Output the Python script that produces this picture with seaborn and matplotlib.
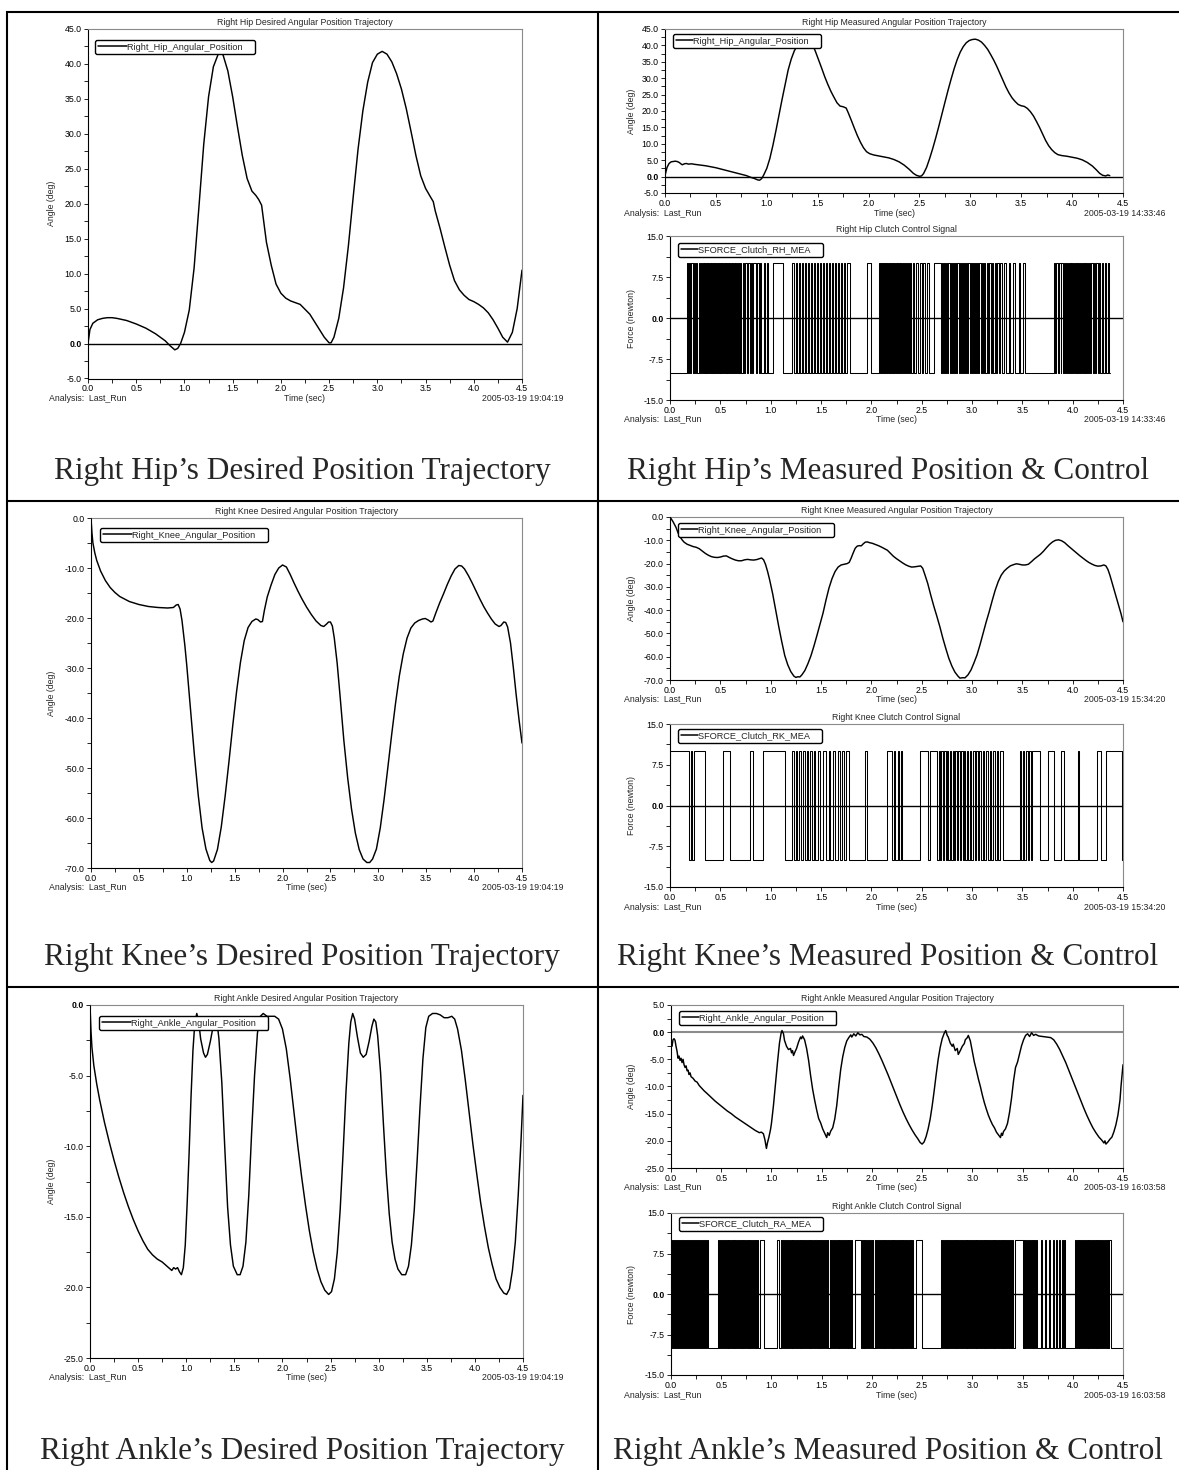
import numpy as np
import matplotlib
matplotlib.use("Agg")
import matplotlib.pyplot as plt
from matplotlib.lines import Line2D
from matplotlib.ticker import MultipleLocator, FormatStrFormatter
import seaborn as sns

sns.set_style("ticks")
plt.rcParams["font.family"] = ["Liberation Sans", "DejaVu Sans"]
plt.rcParams["axes.unicode_minus"] = False

# ---------------------------------------------------------------- data
# joint angle trajectories: columns are time (s), angle (deg)
hip_desired = np.array([
    [0.00, 0.0], [0.02, 2.0], [0.05, 2.9], [0.10, 3.4], [0.15, 3.6], [0.20, 3.7],
    [0.25, 3.7], [0.30, 3.6], [0.40, 3.3], [0.50, 2.8], [0.60, 2.2], [0.70, 1.4],
    [0.80, 0.4], [0.85, -0.3], [0.90, -0.9], [0.93, -0.7], [0.96, 0.0], [1.00, 1.6],
    [1.05, 4.8], [1.10, 10.8], [1.15, 19.5], [1.20, 28.5], [1.25, 35.3], [1.30, 39.6],
    [1.35, 41.4], [1.37, 41.6], [1.40, 41.3], [1.45, 39.0], [1.50, 35.3], [1.55, 31.0],
    [1.60, 26.9], [1.65, 23.6], [1.70, 21.8], [1.74, 21.2], [1.77, 20.6], [1.80, 19.8],
    [1.85, 14.5], [1.90, 11.2], [1.95, 8.5], [2.00, 7.2], [2.05, 6.5], [2.10, 6.1],
    [2.20, 5.6], [2.30, 4.2], [2.40, 2.0], [2.45, 0.9], [2.50, 0.1], [2.52, 0.1],
    [2.55, 0.9], [2.60, 3.6], [2.65, 8.0], [2.70, 14.0], [2.75, 21.0], [2.80, 27.8],
    [2.85, 33.3], [2.90, 37.4], [2.95, 40.2], [3.00, 41.4], [3.05, 41.8], [3.10, 41.4],
    [3.15, 40.3], [3.20, 38.6], [3.25, 36.4], [3.30, 33.6], [3.35, 30.3], [3.40, 26.9],
    [3.45, 24.0], [3.50, 22.2], [3.55, 21.0], [3.58, 20.3], [3.60, 19.0], [3.65, 16.5],
    [3.70, 13.8], [3.75, 11.2], [3.80, 9.0], [3.85, 7.7], [3.90, 6.9], [3.95, 6.3],
    [4.00, 6.0], [4.05, 5.6], [4.10, 5.1], [4.15, 4.4], [4.20, 3.4], [4.25, 2.2],
    [4.30, 0.9], [4.35, 0.2], [4.40, 1.6], [4.45, 5.0], [4.50, 10.5]])

hip_measured = np.array([
    [0.00, 0.3], [0.02, 2.8], [0.04, 4.0], [0.06, 4.5], [0.08, 4.6], [0.10, 4.7],
    [0.12, 4.6], [0.14, 4.3], [0.16, 3.8], [0.17, 3.6], [0.19, 3.9], [0.21, 4.0],
    [0.23, 3.8], [0.26, 3.9], [0.30, 3.7], [0.35, 3.5], [0.40, 3.3], [0.45, 3.0],
    [0.50, 2.7], [0.55, 2.3], [0.60, 1.9], [0.65, 1.5], [0.70, 1.1], [0.75, 0.7],
    [0.80, 0.3], [0.84, -0.2], [0.88, -0.6], [0.91, -1.0], [0.93, -1.1], [0.95, -0.6],
    [0.97, 0.5], [1.00, 2.5], [1.03, 5.5], [1.06, 9.5], [1.09, 14.0], [1.12, 18.8],
    [1.15, 23.5], [1.18, 28.0], [1.21, 32.5], [1.24, 35.8], [1.27, 38.3], [1.30, 40.0],
    [1.33, 41.1], [1.36, 41.6], [1.39, 41.8], [1.42, 41.5], [1.45, 40.3], [1.48, 38.0],
    [1.51, 35.5], [1.54, 33.0], [1.57, 30.4], [1.60, 28.1], [1.63, 26.0], [1.66, 24.2],
    [1.69, 22.5], [1.72, 21.5], [1.75, 21.3], [1.78, 20.9], [1.80, 19.5], [1.83, 17.2],
    [1.86, 14.8], [1.89, 12.5], [1.92, 10.5], [1.95, 8.8], [1.98, 7.6], [2.01, 7.0],
    [2.05, 6.6], [2.10, 6.3], [2.15, 6.0], [2.20, 5.7], [2.25, 5.2], [2.30, 4.5],
    [2.35, 3.5], [2.40, 2.2], [2.44, 1.0], [2.47, 0.4], [2.50, 0.1], [2.52, 0.2],
    [2.54, 0.9], [2.57, 2.8], [2.60, 5.5], [2.63, 8.5], [2.66, 11.8], [2.69, 15.3],
    [2.72, 19.0], [2.75, 22.6], [2.78, 26.2], [2.81, 29.6], [2.84, 32.8], [2.87, 35.6],
    [2.90, 37.9], [2.93, 39.6], [2.96, 40.8], [2.99, 41.5], [3.02, 41.8], [3.05, 41.9],
    [3.08, 41.6], [3.11, 41.0], [3.14, 40.0], [3.17, 38.8], [3.20, 37.2], [3.23, 35.5],
    [3.26, 33.6], [3.29, 31.5], [3.32, 29.4], [3.35, 27.3], [3.38, 25.5], [3.41, 24.0],
    [3.44, 22.9], [3.47, 22.0], [3.50, 21.6], [3.53, 21.4], [3.56, 20.8], [3.59, 19.8],
    [3.62, 18.5], [3.65, 16.8], [3.68, 15.0], [3.71, 13.0], [3.74, 11.0], [3.77, 9.4],
    [3.80, 8.2], [3.83, 7.3], [3.86, 6.7], [3.90, 6.4], [3.95, 6.2], [4.00, 5.9],
    [4.05, 5.6], [4.10, 5.1], [4.15, 4.3], [4.20, 3.2], [4.24, 2.0], [4.27, 1.0],
    [4.30, 0.4], [4.33, 0.2], [4.35, 0.5], [4.37, 0.3]])

knee_desired = np.array([
    [0.00, 0.0], [0.01, -3.0], [0.02, -5.0], [0.04, -7.0], [0.06, -8.5], [0.10, -10.6],
    [0.15, -12.5], [0.20, -13.9], [0.25, -14.9], [0.30, -15.7], [0.40, -16.7],
    [0.50, -17.3], [0.60, -17.7], [0.70, -17.9], [0.80, -18.0], [0.86, -17.9],
    [0.89, -17.4], [0.91, -17.3], [0.93, -18.2], [0.95, -20.5], [0.98, -25.5],
    [1.00, -29.5], [1.04, -38.5], [1.08, -47.5], [1.12, -55.5], [1.16, -62.0],
    [1.20, -66.2], [1.24, -68.5], [1.26, -68.9], [1.28, -68.6], [1.32, -66.3],
    [1.36, -61.8], [1.40, -55.7], [1.44, -48.8], [1.48, -41.5], [1.52, -34.7],
    [1.56, -28.9], [1.60, -24.5], [1.64, -21.9], [1.68, -20.7], [1.72, -20.2],
    [1.74, -20.3], [1.77, -20.8], [1.79, -20.7], [1.81, -18.5], [1.84, -15.8],
    [1.88, -13.4], [1.92, -11.3], [1.96, -10.0], [2.00, -9.4], [2.04, -9.8],
    [2.08, -11.3], [2.12, -13.0], [2.16, -14.6], [2.20, -16.1], [2.25, -17.8],
    [2.30, -19.3], [2.35, -20.6], [2.40, -21.5], [2.43, -21.7], [2.46, -21.2],
    [2.48, -20.8], [2.50, -20.8], [2.52, -21.6], [2.54, -24.0], [2.57, -29.0],
    [2.60, -35.5], [2.64, -44.5], [2.68, -52.0], [2.72, -58.2], [2.76, -63.0],
    [2.80, -66.3], [2.84, -68.2], [2.88, -68.9], [2.91, -68.9], [2.94, -68.2],
    [2.98, -66.2], [3.02, -62.0], [3.06, -56.3], [3.10, -49.8], [3.14, -43.2],
    [3.18, -37.0], [3.22, -31.5], [3.26, -27.2], [3.30, -24.0], [3.34, -22.0],
    [3.38, -21.0], [3.42, -20.5], [3.46, -20.2], [3.49, -20.1], [3.52, -20.4],
    [3.55, -20.8], [3.57, -20.6], [3.60, -19.0], [3.64, -17.0], [3.68, -15.2],
    [3.72, -13.3], [3.76, -11.6], [3.80, -10.2], [3.84, -9.5], [3.87, -9.6],
    [3.90, -10.2], [3.94, -11.5], [3.98, -13.0], [4.02, -14.6], [4.06, -16.2],
    [4.10, -17.7], [4.14, -19.0], [4.18, -20.2], [4.22, -21.2], [4.26, -21.7],
    [4.28, -21.5], [4.31, -20.8], [4.33, -20.9], [4.35, -21.8], [4.38, -25.0],
    [4.41, -30.0], [4.44, -35.5], [4.47, -40.5], [4.50, -45.0]])

knee_measured = np.array([
    [0.00, 0.0], [0.03, -2.0], [0.06, -4.5], [0.08, -6.8], [0.10, -8.5], [0.12, -9.8],
    [0.14, -10.8], [0.17, -11.7], [0.20, -12.2], [0.23, -12.7], [0.26, -13.0],
    [0.29, -13.6], [0.32, -14.6], [0.35, -15.6], [0.38, -16.4], [0.41, -17.0],
    [0.44, -17.3], [0.47, -17.4], [0.50, -17.2], [0.53, -16.8], [0.56, -16.7],
    [0.59, -17.4], [0.62, -18.0], [0.65, -18.5], [0.68, -18.8], [0.71, -18.8],
    [0.74, -18.4], [0.77, -18.2], [0.80, -18.4], [0.83, -18.5], [0.86, -18.3],
    [0.89, -17.9], [0.91, -17.6], [0.93, -18.4], [0.95, -20.5], [0.97, -23.5],
    [0.99, -27.0], [1.02, -33.0], [1.05, -40.0], [1.08, -47.0], [1.11, -53.5],
    [1.14, -59.5], [1.17, -63.5], [1.20, -66.4], [1.23, -68.3], [1.25, -68.9],
    [1.27, -68.6], [1.29, -68.7], [1.31, -67.8], [1.34, -65.9], [1.37, -63.0],
    [1.40, -59.6], [1.43, -55.4], [1.46, -50.8], [1.49, -46.0], [1.52, -41.3],
    [1.55, -35.6], [1.58, -30.4], [1.61, -26.4], [1.64, -23.4], [1.67, -21.5],
    [1.70, -20.6], [1.73, -20.3], [1.76, -20.0], [1.78, -19.5], [1.80, -17.6],
    [1.82, -15.4], [1.84, -13.4], [1.86, -12.5], [1.88, -12.3], [1.90, -12.4],
    [1.92, -11.5], [1.94, -10.8], [1.96, -10.7], [1.98, -11.0], [2.01, -11.3],
    [2.04, -11.8], [2.07, -12.3], [2.10, -12.9], [2.13, -13.6], [2.16, -14.3],
    [2.19, -15.6], [2.22, -16.9], [2.25, -17.9], [2.28, -18.8], [2.31, -19.7],
    [2.34, -20.5], [2.37, -21.1], [2.40, -21.5], [2.43, -21.4], [2.46, -21.2],
    [2.49, -21.0], [2.51, -22.0], [2.53, -24.5], [2.56, -28.5], [2.59, -33.5],
    [2.62, -38.2], [2.65, -42.5], [2.68, -47.0], [2.71, -52.0], [2.74, -56.5],
    [2.77, -60.7], [2.80, -64.0], [2.83, -66.6], [2.86, -68.3], [2.88, -69.2],
    [2.91, -69.0], [2.93, -69.1], [2.96, -67.8], [2.99, -65.7], [3.02, -62.6],
    [3.05, -59.2], [3.08, -54.8], [3.11, -50.0], [3.14, -45.2], [3.17, -40.8],
    [3.20, -36.0], [3.23, -31.5], [3.26, -27.8], [3.29, -25.0], [3.32, -23.2],
    [3.35, -22.0], [3.38, -21.0], [3.41, -20.5], [3.44, -20.1], [3.47, -20.3],
    [3.50, -20.6], [3.53, -20.6], [3.56, -20.3], [3.59, -19.2], [3.62, -18.0],
    [3.65, -17.0], [3.68, -16.0], [3.71, -14.7], [3.74, -13.2], [3.77, -11.8],
    [3.80, -10.7], [3.83, -10.0], [3.86, -9.8], [3.89, -10.2], [3.92, -11.0],
    [3.95, -12.2], [3.98, -13.3], [4.01, -14.4], [4.04, -15.5], [4.07, -16.6],
    [4.10, -17.6], [4.13, -18.6], [4.16, -19.5], [4.19, -20.2], [4.22, -20.8],
    [4.25, -21.1], [4.28, -21.0], [4.31, -20.6], [4.33, -21.0], [4.35, -22.5],
    [4.37, -25.0], [4.40, -29.5], [4.43, -34.0], [4.46, -38.5], [4.48, -41.5],
    [4.50, -45.0]])

ankle_desired = np.array([
    [0.00, 0.0], [0.01, -1.8], [0.02, -3.0], [0.04, -4.3], [0.07, -5.6], [0.10, -6.7],
    [0.15, -8.3], [0.20, -9.7], [0.25, -11.0], [0.30, -12.2], [0.35, -13.3],
    [0.40, -14.3], [0.45, -15.2], [0.50, -16.0], [0.55, -16.7], [0.60, -17.3],
    [0.65, -17.7], [0.70, -18.0], [0.75, -18.2], [0.80, -18.5], [0.85, -18.8],
    [0.87, -18.6], [0.89, -18.7], [0.91, -18.6], [0.93, -18.9], [0.95, -19.1],
    [0.97, -18.6], [0.99, -17.0], [1.01, -14.0], [1.03, -10.5], [1.05, -6.5],
    [1.07, -3.2], [1.09, -1.2], [1.11, -0.6], [1.13, -1.2], [1.15, -2.4], [1.18, -3.4],
    [1.20, -3.7], [1.22, -3.5], [1.25, -2.6], [1.28, -1.5], [1.30, -1.0], [1.32, -1.2],
    [1.34, -2.4], [1.37, -5.5], [1.40, -10.0], [1.43, -14.3], [1.46, -17.0],
    [1.49, -18.5], [1.53, -19.1], [1.56, -19.1], [1.59, -18.5], [1.62, -16.8],
    [1.65, -13.5], [1.68, -9.0], [1.71, -5.0], [1.74, -2.0], [1.77, -0.8], [1.80, -0.6],
    [1.84, -0.8], [1.88, -0.8], [1.92, -0.8], [1.96, -1.0], [2.00, -1.7], [2.04, -3.1],
    [2.08, -5.2], [2.12, -7.6], [2.16, -10.0], [2.20, -12.2], [2.24, -14.2],
    [2.28, -16.0], [2.32, -17.5], [2.36, -18.7], [2.40, -19.6], [2.44, -20.2],
    [2.48, -20.5], [2.51, -20.3], [2.54, -19.4], [2.57, -17.5], [2.60, -14.5],
    [2.63, -10.5], [2.66, -6.2], [2.69, -2.7], [2.71, -1.2], [2.73, -0.6], [2.75, -1.0],
    [2.78, -2.3], [2.81, -3.4], [2.84, -3.7], [2.87, -3.5], [2.90, -2.6], [2.93, -1.5],
    [2.95, -1.0], [2.97, -1.2], [2.99, -2.2], [3.02, -4.8], [3.05, -8.5], [3.08, -12.0],
    [3.11, -14.8], [3.14, -16.8], [3.17, -18.0], [3.20, -18.7], [3.24, -19.1],
    [3.28, -19.1], [3.31, -18.5], [3.34, -17.0], [3.37, -14.5], [3.40, -11.0],
    [3.43, -7.2], [3.46, -3.8], [3.49, -1.6], [3.52, -0.8], [3.56, -0.6], [3.60, -0.6],
    [3.64, -0.7], [3.68, -0.9], [3.72, -0.9], [3.76, -0.8], [3.79, -1.0], [3.82, -1.7],
    [3.86, -3.2], [3.90, -5.3], [3.94, -7.6], [3.98, -9.9], [4.02, -12.0],
    [4.06, -14.0], [4.10, -15.7], [4.14, -17.2], [4.18, -18.4], [4.22, -19.4],
    [4.26, -20.0], [4.30, -20.4], [4.33, -20.5], [4.36, -20.1], [4.39, -18.8],
    [4.42, -16.8], [4.45, -13.5], [4.48, -9.5], [4.50, -6.4]])

ankle_measured = np.array([
    [0.000, -2.5], [0.010, -2.6], [0.015, -2.0], [0.020, -1.4], [0.030, -1.2],
    [0.040, -1.5], [0.050, -2.6], [0.060, -3.5], [0.070, -4.8], [0.080, -4.4],
    [0.090, -5.2], [0.100, -4.8], [0.110, -5.6], [0.120, -5.0], [0.130, -6.0],
    [0.140, -6.5], [0.150, -6.2], [0.160, -7.1], [0.170, -7.0], [0.180, -7.8],
    [0.190, -7.5], [0.200, -8.2], [0.220, -8.5], [0.240, -9.0], [0.260, -9.2],
    [0.280, -9.8], [0.300, -10.2], [0.330, -10.8], [0.360, -11.3], [0.400, -12.0],
    [0.440, -12.7], [0.480, -13.3], [0.520, -13.9], [0.560, -14.5], [0.600, -15.0],
    [0.640, -15.6], [0.680, -16.1], [0.720, -16.6], [0.760, -17.1], [0.800, -17.6],
    [0.840, -18.1], [0.880, -18.5], [0.900, -18.4], [0.920, -18.7], [0.935, -19.8],
    [0.950, -21.4], [0.960, -20.4], [0.975, -19.3], [0.990, -18.0], [1.000, -16.8],
    [1.020, -13.5], [1.040, -9.5], [1.060, -5.6], [1.080, -2.0], [1.095, -0.3],
    [1.105, 0.3], [1.120, -0.3], [1.130, -1.5], [1.150, -2.6], [1.170, -3.2],
    [1.190, -3.0], [1.200, -3.8], [1.210, -3.4], [1.220, -4.3], [1.235, -3.6],
    [1.250, -3.0], [1.270, -1.8], [1.290, -0.9], [1.300, -1.2], [1.310, -0.7],
    [1.330, -1.4], [1.350, -3.0], [1.370, -5.2], [1.390, -8.0], [1.410, -10.5],
    [1.430, -12.5], [1.450, -14.3], [1.470, -15.9], [1.490, -16.7], [1.510, -17.8],
    [1.530, -18.6], [1.550, -19.4], [1.560, -18.5], [1.575, -19.0], [1.590, -18.2],
    [1.610, -17.6], [1.630, -16.0], [1.650, -13.5], [1.670, -10.0], [1.690, -6.8],
    [1.710, -4.5], [1.730, -2.8], [1.750, -1.6], [1.770, -1.0], [1.790, -0.5],
    [1.800, -0.9], [1.820, -0.3], [1.840, -0.7], [1.860, -0.1], [1.880, -0.5],
    [1.900, -0.4], [1.920, -0.8], [1.950, -0.9], [1.980, -1.3], [2.010, -2.0],
    [2.040, -2.9], [2.070, -4.0], [2.100, -5.2], [2.130, -6.5], [2.160, -7.8],
    [2.190, -9.2], [2.220, -10.6], [2.250, -12.0], [2.280, -13.4], [2.310, -14.7],
    [2.340, -15.9], [2.370, -17.0], [2.400, -18.0], [2.430, -18.9], [2.460, -19.7],
    [2.480, -20.3], [2.500, -20.6], [2.520, -20.2], [2.540, -19.2], [2.560, -17.8],
    [2.580, -16.0], [2.600, -13.6], [2.620, -10.8], [2.640, -7.8], [2.660, -5.0],
    [2.680, -2.8], [2.700, -1.2], [2.720, -0.2], [2.735, 0.3], [2.750, -0.6],
    [2.760, -0.9], [2.780, -2.0], [2.800, -2.6], [2.810, -2.2], [2.830, -3.4],
    [2.850, -3.0], [2.860, -4.1], [2.880, -3.4], [2.900, -2.6], [2.920, -2.1],
    [2.930, -1.4], [2.950, -1.0], [2.960, -0.6], [2.980, -1.6], [3.000, -3.6],
    [3.020, -5.5], [3.040, -7.0], [3.060, -8.6], [3.080, -10.0], [3.100, -11.6],
    [3.120, -13.0], [3.140, -14.2], [3.160, -15.3], [3.180, -16.2], [3.200, -17.0],
    [3.220, -17.6], [3.240, -18.4], [3.260, -18.9], [3.280, -19.4], [3.290, -18.6],
    [3.300, -19.0], [3.310, -18.3], [3.330, -17.8], [3.350, -16.8], [3.370, -14.8],
    [3.390, -12.2], [3.410, -9.0], [3.430, -6.5], [3.450, -5.5], [3.470, -4.0],
    [3.490, -2.5], [3.510, -1.4], [3.530, -0.6], [3.550, -0.3], [3.570, -0.8],
    [3.590, -0.1], [3.610, -0.6], [3.630, -0.4], [3.660, -0.7], [3.700, -0.8],
    [3.740, -0.9], [3.780, -1.0], [3.810, -1.4], [3.840, -2.2], [3.870, -3.2],
    [3.900, -4.4], [3.930, -5.6], [3.960, -7.0], [3.990, -8.4], [4.020, -9.8],
    [4.050, -11.2], [4.080, -12.6], [4.110, -14.0], [4.140, -15.3], [4.170, -16.5],
    [4.200, -17.6], [4.230, -18.5], [4.260, -19.3], [4.290, -19.9], [4.310, -20.4],
    [4.320, -20.0], [4.330, -20.6], [4.350, -20.2], [4.370, -19.7], [4.390, -19.3],
    [4.410, -18.3], [4.430, -17.0], [4.450, -15.2], [4.470, -12.5], [4.480, -10.0],
    [4.490, -8.0], [4.500, -6.0]])

# clutch commands: intervals (on, off) in seconds where the force is +10 N, else -10 N
clutch_high, clutch_low = 10.0, -10.0

rh_pulses = np.array([
    [0.168, 0.178], [0.190, 0.200], [0.212, 0.225], [0.238, 0.248], [0.262, 0.272],
    [0.285, 0.296], [0.310, 0.318], [0.325, 0.333], [0.339, 0.347], [0.353, 0.361],
    [0.367, 0.375], [0.381, 0.389], [0.395, 0.403], [0.409, 0.417], [0.423, 0.431],
    [0.437, 0.445], [0.451, 0.459], [0.465, 0.473], [0.479, 0.487], [0.493, 0.501],
    [0.507, 0.515], [0.521, 0.529], [0.535, 0.543], [0.549, 0.557], [0.563, 0.571],
    [0.577, 0.585], [0.591, 0.599], [0.605, 0.613], [0.620, 0.628], [0.635, 0.643],
    [0.650, 0.658], [0.666, 0.674], [0.682, 0.690], [0.698, 0.706], [0.725, 0.738],
    [0.748, 0.762], [0.772, 0.790], [0.800, 0.818], [0.828, 0.850], [0.862, 0.880],
    [0.890, 0.905], [0.935, 0.948], [0.962, 0.975], [1.020, 1.125], [1.215, 1.235],
    [1.250, 1.262], [1.280, 1.292], [1.310, 1.322], [1.340, 1.352], [1.370, 1.382],
    [1.400, 1.412], [1.430, 1.442], [1.460, 1.472], [1.490, 1.502], [1.520, 1.532],
    [1.550, 1.562], [1.580, 1.592], [1.610, 1.622], [1.640, 1.652], [1.670, 1.682],
    [1.700, 1.712], [1.730, 1.742], [1.760, 1.785], [1.960, 1.995], [2.075, 2.085],
    [2.093, 2.100], [2.108, 2.115], [2.122, 2.130], [2.137, 2.145], [2.152, 2.160],
    [2.167, 2.175], [2.182, 2.190], [2.197, 2.205], [2.212, 2.220], [2.227, 2.235],
    [2.242, 2.250], [2.257, 2.265], [2.272, 2.280], [2.288, 2.296], [2.305, 2.313],
    [2.322, 2.330], [2.340, 2.350], [2.360, 2.372], [2.385, 2.398], [2.410, 2.420],
    [2.445, 2.460], [2.480, 2.500], [2.515, 2.535], [2.555, 2.575], [2.625, 2.690],
    [2.700, 2.712], [2.722, 2.734], [2.744, 2.756], [2.766, 2.778], [2.788, 2.800],
    [2.810, 2.822], [2.832, 2.844], [2.854, 2.866], [2.876, 2.888], [2.898, 2.910],
    [2.920, 2.932], [2.942, 2.954], [2.964, 2.976], [2.986, 2.998], [3.008, 3.020],
    [3.030, 3.042], [3.052, 3.064], [3.074, 3.086], [3.096, 3.108], [3.120, 3.134],
    [3.146, 3.160], [3.172, 3.186], [3.198, 3.212], [3.224, 3.238], [3.250, 3.266],
    [3.278, 3.295], [3.320, 3.335], [3.365, 3.380], [3.410, 3.425], [3.465, 3.480],
    [3.510, 3.525], [3.810, 3.825], [3.832, 3.855], [3.862, 3.880], [3.888, 3.905],
    [3.912, 3.925], [3.932, 3.945], [3.952, 3.962], [3.970, 3.980], [3.988, 3.997],
    [4.005, 4.014], [4.022, 4.031], [4.039, 4.048], [4.056, 4.065], [4.073, 4.082],
    [4.090, 4.100], [4.108, 4.118], [4.126, 4.136], [4.145, 4.155], [4.165, 4.176],
    [4.186, 4.198], [4.210, 4.222], [4.235, 4.248], [4.262, 4.275], [4.290, 4.305],
    [4.320, 4.335], [4.350, 4.360]])
rh_end = 4.37

rk_pulses = np.array([
    [0.000, 0.186], [0.205, 0.220], [0.235, 0.343], [0.530, 0.593], [0.790, 0.828],
    [0.921, 1.145], [1.212, 1.230], [1.248, 1.266], [1.284, 1.302], [1.320, 1.338],
    [1.356, 1.374], [1.392, 1.410], [1.428, 1.445], [1.470, 1.490], [1.520, 1.545],
    [1.575, 1.590], [1.620, 1.640], [1.670, 1.685], [1.710, 1.725], [1.745, 1.778],
    [1.940, 1.952], [2.151, 2.207], [2.226, 2.240], [2.262, 2.275], [2.290, 2.300],
    [2.487, 2.562], [2.580, 2.655], [2.668, 2.682], [2.696, 2.710], [2.724, 2.738],
    [2.752, 2.766], [2.780, 2.794], [2.808, 2.822], [2.836, 2.850], [2.864, 2.878],
    [2.892, 2.906], [2.920, 2.934], [2.950, 2.965], [2.980, 2.995], [3.010, 3.025],
    [3.040, 3.055], [3.072, 3.087], [3.105, 3.120], [3.140, 3.155], [3.175, 3.190],
    [3.210, 3.225], [3.245, 3.260], [3.280, 3.307], [3.475, 3.490], [3.505, 3.520],
    [3.537, 3.552], [3.568, 3.583], [3.598, 3.680], [3.755, 3.810], [3.885, 3.911],
    [4.053, 4.062], [4.240, 4.277], [4.333, 4.493]])
rk_end = 4.50

ra_pulses = np.array([
    [0.000, 0.012], [0.024, 0.031], [0.043, 0.052], [0.061, 0.072], [0.080, 0.091],
    [0.099, 0.110], [0.118, 0.129], [0.138, 0.147], [0.158, 0.166], [0.178, 0.186],
    [0.197, 0.206], [0.218, 0.226], [0.237, 0.246], [0.258, 0.266], [0.278, 0.287],
    [0.298, 0.307], [0.318, 0.327], [0.338, 0.346], [0.358, 0.366], [0.470, 0.480],
    [0.490, 0.498], [0.508, 0.517], [0.527, 0.535], [0.545, 0.554], [0.563, 0.571],
    [0.580, 0.590], [0.598, 0.606], [0.615, 0.624], [0.632, 0.641], [0.650, 0.658],
    [0.667, 0.676], [0.685, 0.693], [0.702, 0.711], [0.720, 0.728], [0.737, 0.746],
    [0.755, 0.763], [0.772, 0.781], [0.790, 0.798], [0.807, 0.816], [0.825, 0.833],
    [0.842, 0.851], [0.860, 0.868], [0.885, 0.930], [1.060, 1.080], [1.092, 1.100],
    [1.110, 1.118], [1.128, 1.136], [1.146, 1.154], [1.164, 1.172], [1.182, 1.190],
    [1.200, 1.208], [1.218, 1.226], [1.236, 1.244], [1.254, 1.262], [1.272, 1.280],
    [1.290, 1.298], [1.308, 1.316], [1.326, 1.334], [1.344, 1.352], [1.362, 1.370],
    [1.380, 1.388], [1.398, 1.406], [1.416, 1.424], [1.434, 1.442], [1.452, 1.460],
    [1.470, 1.478], [1.488, 1.496], [1.506, 1.514], [1.524, 1.532], [1.542, 1.550],
    [1.560, 1.568], [1.578, 1.586], [1.596, 1.604], [1.614, 1.622], [1.632, 1.640],
    [1.650, 1.658], [1.668, 1.676], [1.686, 1.694], [1.704, 1.712], [1.722, 1.730],
    [1.740, 1.748], [1.758, 1.766], [1.776, 1.784], [1.794, 1.802], [1.830, 1.890],
    [1.900, 1.908], [1.918, 1.926], [1.936, 1.944], [1.954, 1.962], [1.972, 1.980],
    [1.990, 1.998], [2.008, 2.016], [2.026, 2.034], [2.044, 2.052], [2.062, 2.070],
    [2.080, 2.088], [2.098, 2.106], [2.116, 2.124], [2.134, 2.142], [2.152, 2.160],
    [2.170, 2.178], [2.188, 2.196], [2.206, 2.214], [2.224, 2.232], [2.242, 2.250],
    [2.260, 2.268], [2.278, 2.286], [2.296, 2.304], [2.314, 2.322], [2.332, 2.340],
    [2.350, 2.358], [2.368, 2.376], [2.386, 2.394], [2.404, 2.412], [2.440, 2.495],
    [2.690, 2.698], [2.708, 2.716], [2.726, 2.734], [2.744, 2.752], [2.762, 2.770],
    [2.780, 2.788], [2.798, 2.806], [2.816, 2.824], [2.834, 2.842], [2.852, 2.860],
    [2.870, 2.878], [2.888, 2.896], [2.906, 2.914], [2.924, 2.932], [2.942, 2.950],
    [2.960, 2.968], [2.978, 2.986], [2.996, 3.004], [3.014, 3.022], [3.032, 3.040],
    [3.050, 3.058], [3.068, 3.076], [3.086, 3.094], [3.104, 3.112], [3.122, 3.130],
    [3.140, 3.148], [3.158, 3.166], [3.176, 3.184], [3.194, 3.202], [3.212, 3.220],
    [3.230, 3.238], [3.248, 3.256], [3.266, 3.274], [3.284, 3.292], [3.302, 3.310],
    [3.320, 3.328], [3.338, 3.346], [3.356, 3.364], [3.374, 3.382], [3.392, 3.400],
    [3.420, 3.500], [3.510, 3.518], [3.528, 3.536], [3.546, 3.554], [3.564, 3.572],
    [3.582, 3.590], [3.600, 3.608], [3.618, 3.626], [3.636, 3.644], [3.680, 3.690],
    [3.720, 3.730], [3.760, 3.770], [3.800, 3.812], [3.830, 3.842], [3.860, 3.872],
    [3.890, 3.900], [3.910, 3.918], [4.020, 4.030], [4.040, 4.048], [4.058, 4.066],
    [4.076, 4.084], [4.094, 4.102], [4.112, 4.120], [4.130, 4.138], [4.148, 4.156],
    [4.166, 4.174], [4.184, 4.192], [4.202, 4.210], [4.220, 4.228], [4.238, 4.246],
    [4.256, 4.264], [4.274, 4.282], [4.292, 4.300], [4.310, 4.318], [4.328, 4.336],
    [4.346, 4.354], [4.364, 4.380]])
ra_end = 4.50

# text
captions = [
    "Right Hip\u2019s Desired Position Trajectory",
    "Right Hip\u2019s Measured Position & Control",
    "Right Knee\u2019s Desired Position Trajectory",
    "Right Knee\u2019s Measured Position & Control",
    "Right Ankle\u2019s Desired Position Trajectory",
    "Right Ankle\u2019s Measured Position & Control",
]
stamp_desired = "2005-03-19 19:04:19"
stamp_hip = "2005-03-19 14:33:46"
stamp_knee = "2005-03-19 15:34:20"
stamp_ankle = "2005-03-19 16:03:58"

# ---------------------------------------------------------------- layout
FIG_W, FIG_H, DPI = 1179, 1470, 100
fig = plt.figure(figsize=(FIG_W / DPI, FIG_H / DPI), dpi=DPI)
fig.patch.set_facecolor("white")

SMALL = 6.3
LEG = 6.6


def fx(x):
    return x / FIG_W


def fy(y):
    return 1.0 - y / FIG_H


def step_series(pulses, t_end):
    t, v = [0.0], [clutch_low]
    for on, off in pulses:
        t += [on, off]
        v += [clutch_high, clutch_low]
    t.append(t_end)
    v.append(v[-1])
    return t, v


def panel(box, ylim, ystep, title, ylabel, legend_text, legend_xy, handle_len,
          stamp, ylabel_x, left_note_x, right_note_x, zero=None, bold_zero=True):
    x0, y0, x1, y1 = box
    ax = fig.add_axes([fx(x0), fy(y1), fx(x1) - fx(x0), (y1 - y0) / FIG_H])
    ax.set_xlim(0, 4.5)
    ax.set_ylim(*ylim)
    ax.xaxis.set_major_locator(MultipleLocator(0.5))
    ax.xaxis.set_minor_locator(MultipleLocator(0.25))
    ax.yaxis.set_major_locator(MultipleLocator(ystep))
    ax.yaxis.set_minor_locator(MultipleLocator(ystep / 2))
    ax.xaxis.set_major_formatter(FormatStrFormatter("%.1f"))
    ax.yaxis.set_major_formatter(FormatStrFormatter("%.1f"))
    ax.tick_params(which="both", direction="out", length=3.0, width=0.6,
                   labelsize=SMALL, colors="black")
    ax.tick_params(axis="x", pad=1.0)
    ax.tick_params(axis="y", pad=1.6)
    for side in ("left", "bottom"):
        ax.spines[side].set_color("black")
        ax.spines[side].set_linewidth(0.8)
    for side in ("top", "right"):
        ax.spines[side].set_color("#8a8a8a")
        ax.spines[side].set_linewidth(0.8)
    ax.set_xlabel("")
    ax.set_ylabel("")
    if zero is not None:
        ax.axhline(0.0, color=zero[0], lw=zero[1], zorder=1)
    ax.set_title(title, fontsize=SMALL, pad=2.6)

    handle = Line2D([], [], color="black", lw=1.1)
    leg = ax.legend([handle], [legend_text + "    "], loc="upper left",
                    bbox_to_anchor=(fx(legend_xy[0]), fy(legend_xy[1])),
                    bbox_transform=fig.transFigure, borderaxespad=0.0,
                    frameon=True, fancybox=True, fontsize=LEG,
                    handlelength=handle_len, handletextpad=0.0, borderpad=0.28)
    fr = leg.get_frame()
    fr.set_edgecolor("black")
    fr.set_linewidth(1.0)
    fr.set_facecolor("white")
    fr.set_alpha(1.0)

    yc = fy((y0 + y1) / 2)
    fig.text(fx(ylabel_x), yc, ylabel, rotation=90, ha="center", va="center",
             fontsize=SMALL)
    note_y = fy(y1 + 20)
    fig.text(fx(left_note_x), note_y, "Analysis:  Last_Run", ha="left",
             va="center", fontsize=SMALL)
    fig.text(fx((x0 + x1) / 2), note_y, "Time (sec)", ha="center", va="center",
             fontsize=SMALL)
    fig.text(fx(right_note_x), note_y, stamp, ha="right", va="center",
             fontsize=SMALL)
    ax._bold_zero = bold_zero
    return ax


def curve(ax, data):
    sns.lineplot(x=data[:, 0], y=data[:, 1], ax=ax, color="black", linewidth=1.05,
                 estimator=None, sort=False, legend=False, zorder=3)


def clutch(ax, pulses, t_end):
    t, v = step_series(pulses, t_end)
    sns.lineplot(x=t, y=v, ax=ax, color="black", linewidth=0.75, estimator=None,
                 sort=False, legend=False, drawstyle="steps-post", zorder=3)


LX_Y, RX_Y = 51, 632          # y-label centres (px)
LN_L, LN_R = 49, 564          # bottom notes, left column
RN_L, RN_R = 624, 1165        # bottom notes, right column
BLACK0 = ("black", 1.0)

axes = []
# hip
a = panel((88, 29, 522, 378.5), (-5, 45), 5.0,
          "Right Hip Desired Angular Position Trajectory", "Angle (deg)",
          "Right_Hip_Angular_Position", (95, 40), 3.2, stamp_desired,
          LX_Y, LN_L, LN_R, zero=BLACK0)
curve(a, hip_desired); axes.append(a)
a = panel((665, 29, 1123, 193), (-5, 45), 5.0,
          "Right Hip Measured Angular Position Trajectory", "Angle (deg)",
          "Right_Hip_Angular_Position", (673, 34), 1.9, stamp_hip,
          RX_Y, RN_L, RN_R, zero=BLACK0)
curve(a, hip_measured); axes.append(a)
a = panel((670, 236, 1123, 400), (-15, 15), 7.5,
          "Right Hip Clutch Control Signal", "Force (newton)",
          "SFORCE_Clutch_RH_MEA", (678, 243), 1.9, stamp_hip,
          RX_Y, RN_L, RN_R, zero=BLACK0)
clutch(a, rh_pulses, rh_end); axes.append(a)

# knee
a = panel((91, 518, 522, 868), (-70, 0), 10.0,
          "Right Knee Desired Angular Position Trajectory", "Angle (deg)",
          "Right_Knee_Angular_Position", (100, 528), 3.2, stamp_desired,
          LX_Y, LN_L, LN_R, bold_zero=False)
curve(a, knee_desired); axes.append(a)
a = panel((670, 517, 1123, 680), (-70, 0), 10.0,
          "Right Knee Measured Angular Position Trajectory", "Angle (deg)",
          "Right_Knee_Angular_Position", (678, 523), 1.9, stamp_knee,
          RX_Y, RN_L, RN_R, bold_zero=False)
curve(a, knee_measured); axes.append(a)
a = panel((670, 724, 1123, 887), (-15, 15), 7.5,
          "Right Knee Clutch Control Signal", "Force (newton)",
          "SFORCE_Clutch_RK_MEA", (678, 729), 1.9, stamp_knee,
          RX_Y, RN_L, RN_R, zero=BLACK0)
clutch(a, rk_pulses, rk_end); axes.append(a)

# ankle
a = panel((90, 1005, 523, 1358), (-25, 0), 5.0,
          "Right Ankle Desired Angular Position Trajectory", "Angle (deg)",
          "Right_Ankle_Angular_Position", (99, 1016), 3.2, stamp_desired,
          LX_Y, LN_L, LN_R)
curve(a, ankle_desired); axes.append(a)
a = panel((671, 1005, 1123, 1168), (-25, 5), 5.0,
          "Right Ankle Measured Angular Position Trajectory", "Angle (deg)",
          "Right_Ankle_Angular_Position", (679, 1011), 1.9, stamp_ankle,
          RX_Y, RN_L, RN_R, zero=("#8c8c8c", 1.5))
curve(a, ankle_measured); axes.append(a)
a = panel((671, 1213, 1123, 1375), (-15, 15), 7.5,
          "Right Ankle Clutch Control Signal", "Force (newton)",
          "SFORCE_Clutch_RA_MEA", (679, 1217), 1.9, stamp_ankle,
          RX_Y, RN_L, RN_R, zero=BLACK0)
clutch(a, ra_pulses, ra_end); axes.append(a)

# captions
cap_pos = [(302, 471), (888, 471), (302, 957), (888, 957), (302, 1451), (888, 1451)]
for text, (cx, cy) in zip(captions, cap_pos):
    fig.text(fx(cx), fy(cy), text, ha="center", va="center", fontsize=22.5,
             family=["Liberation Serif", "DejaVu Serif"])

# table rules
rule_kw = dict(color="black", lw=1.5, transform=fig.transFigure, solid_capstyle="butt")
fig.add_artist(Line2D([fx(6), fx(1179)], [fy(12), fy(12)], **rule_kw))
fig.add_artist(Line2D([fx(6), fx(1179)], [fy(501), fy(501)], **rule_kw))
fig.add_artist(Line2D([fx(6), fx(1179)], [fy(987), fy(987)], **rule_kw))
fig.add_artist(Line2D([fx(7), fx(7)], [fy(11), fy(1470)], **rule_kw))
fig.add_artist(Line2D([fx(598), fx(598)], [fy(11), fy(1470)], **rule_kw))

# bold zero tick label where the zero level is emphasised
fig.canvas.draw()
for ax in axes:
    if ax._bold_zero:
        for lbl in ax.get_yticklabels():
            if lbl.get_text() in ("0.0", "-0.0"):
                lbl.set_fontweight("bold")

fig.savefig("out.png", dpi=DPI, facecolor="white")
